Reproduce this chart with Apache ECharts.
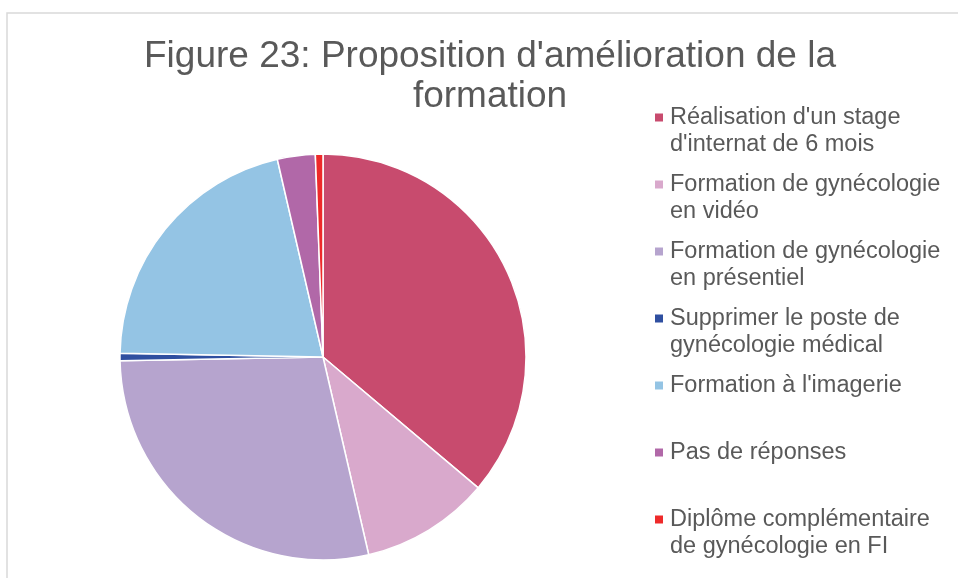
<!DOCTYPE html>
<html>
<head>
<meta charset="utf-8">
<script src="https://cdn.jsdelivr.net/npm/echarts@6/dist/echarts.min.js"></script>
<style>
  html, body { margin: 0; padding: 0; background: #ffffff; }
  #chart { width: 958px; height: 578px; }
</style>
</head>
<body>
<div id="chart"></div>
<script>
// ---- data ----
var titleText = "Figure 23: Proposition d'amélioration de la\nformation";
var categories = [
  "Réalisation d'un stage\nd'internat de 6 mois",
  "Formation de gynécologie\nen vidéo",
  "Formation de gynécologie\nen présentiel",
  "Supprimer le poste de\ngynécologie médical",
  "Formation à l'imagerie",
  "Pas de réponses",
  "Diplôme complémentaire\nde gynécologie en FI"
];
var values = [60, 17, 47, 1, 35, 5, 1];
var colors = ['#C84B6E', '#D9A9CC', '#B6A4CE', '#2F4FA0', '#94C4E4', '#B168A8', '#EE2A2A'];

// ---- build ----
var FONT = "'Liberation Sans', Arial, sans-serif";
var TXT = '#595959';
var LH = 27;

var pieData = categories.map(function (c, i) {
  return { name: c, value: values[i], itemStyle: { color: colors[i] } };
});

var rich = {
  t: { color: TXT, fontSize: 23.5, fontFamily: FONT, lineHeight: LH },
  g: { width: 7, height: 8, lineHeight: LH },
  ind: { width: 15, height: 8, lineHeight: LH }
};
colors.forEach(function (col, i) {
  rich['m' + i] = { width: 8, height: 8, backgroundColor: col, lineHeight: LH };
});

var chart = echarts.init(document.getElementById('chart'), null, { renderer: 'canvas' });
chart.setOption({
  backgroundColor: '#ffffff',
  animation: false,
  graphic: [{
    type: 'rect',
    z: -10,
    shape: { x: 7, y: 13, width: 1000, height: 1000 },
    style: { fill: 'none', stroke: '#D9D9D9', lineWidth: 1.5 },
    silent: true
  }],
  title: {
    text: titleText,
    left: 485,
    textAlign: 'center',
    top: 32,
    padding: 5,
    textStyle: {
      fontFamily: FONT,
      fontSize: 37,
      lineHeight: 40,
      fontWeight: 'normal',
      color: TXT
    }
  },
  legend: {
    orient: 'vertical',
    left: 650,
    top: 104,
    padding: 0,
    itemGap: 13,
    itemWidth: 0,
    itemHeight: 54,
    icon: 'none',
    selectedMode: false,
    data: categories,
    formatter: function (name) {
      var i = categories.indexOf(name);
      var lines = name.split('\n');
      var s = '{m' + i + '|}{g|}{t|' + lines[0] + '}';
      if (lines.length > 1) {
        s += '\n{ind|}{t|' + lines[1] + '}';
      } else {
        s += '\n{ind|}{t| }';
      }
      return s;
    },
    textStyle: {
      color: TXT,
      fontSize: 23.5,
      fontFamily: FONT,
      lineHeight: LH,
      rich: rich
    }
  },
  series: [{
    type: 'pie',
    center: [323, 357],
    radius: [0, 203],
    startAngle: 90,
    clockwise: true,
    avoidLabelOverlap: false,
    label: { show: false },
    labelLine: { show: false },
    emphasis: { disabled: true },
    itemStyle: { borderColor: '#ffffff', borderWidth: 1.5 },
    data: pieData
  }]
});
</script>
</body>
</html>
